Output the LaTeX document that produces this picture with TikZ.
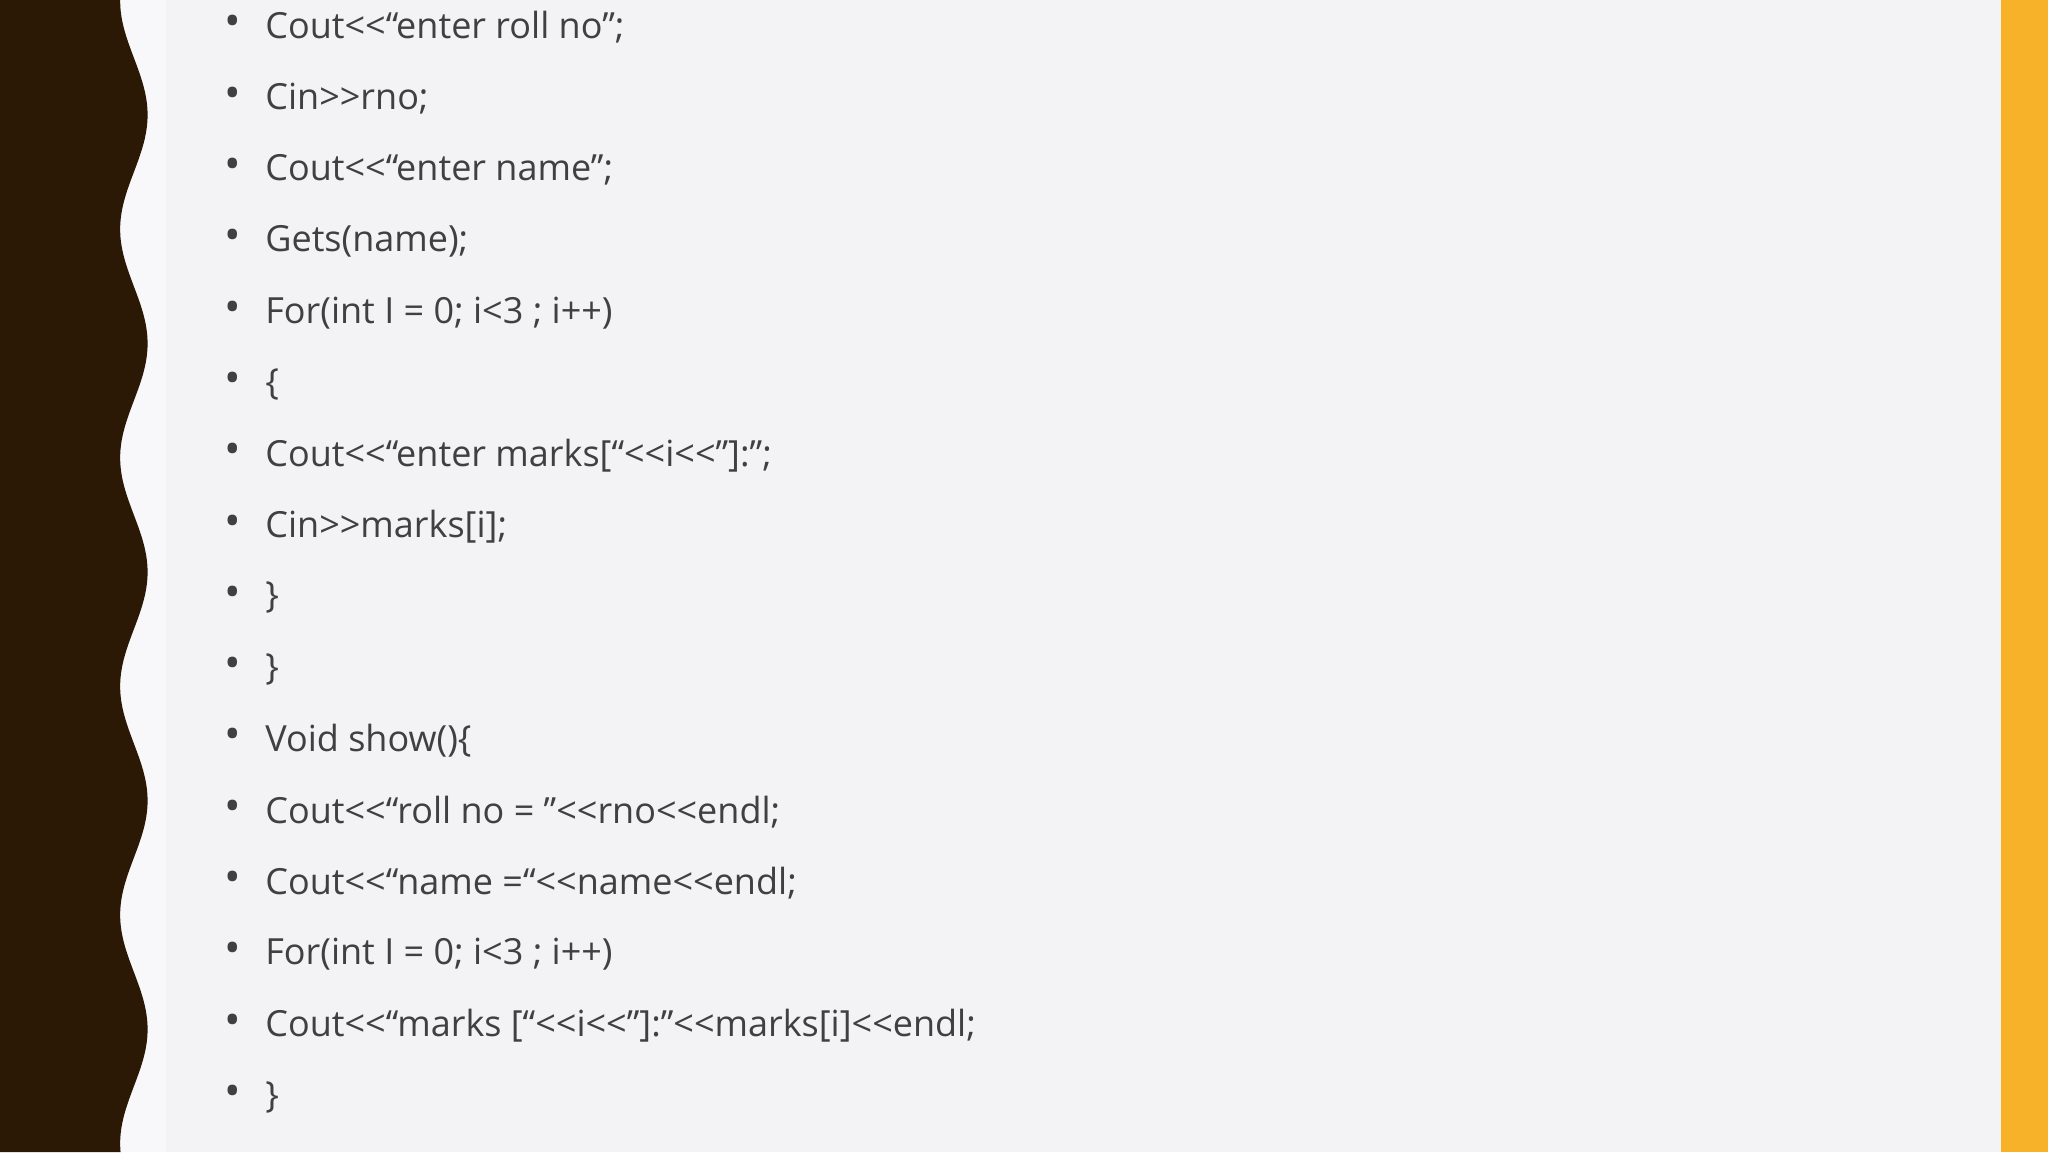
\documentclass[tikz,border=0pt]{standalone}
\usepackage{fontspec}
\setmainfont{Open Sans}
\definecolor{bg}{HTML}{F3F2F5}
\definecolor{band}{HTML}{F8F8FA}
\definecolor{dark}{HTML}{2B1805}
\definecolor{orng}{HTML}{F7B22A}
\definecolor{txt}{HTML}{404040}
\begin{document}
\begin{tikzpicture}[x=1.30612pt,y=-1.30612pt,
  line/.style={anchor=west,inner sep=0pt,text=txt,font=\fontsize{36}{42}\selectfont},
  bul/.style={anchor=center,inner sep=0pt,text=txt,font=\fontsize{44}{50}\selectfont}]
\useasboundingbox (0,0) rectangle (1568,882);
\fill[bg] (0,0) rectangle (1568,882);
\fill[band] (0,0) rectangle (127,882);
\fill[dark] (0,0) -- plot[domain=0:882,samples=200,smooth] ({102.5+10.5*cos(2.05714*(\x-88))},\x) -- (0,882) -- cycle;
\fill[orng] (1532,0) rectangle (1568,882);
\foreach \t [count=\i] in {
 {Cout<{}<“enter roll no”;},
 {Cin>{}>rno;},
 {Cout<{}<“enter name”;},
 {Gets(name);},
 {For(int I = 0; i<3 ; i+{}+)},
 {\{},
 {Cout<{}<“enter marks[“<{}<i<{}<”]:”;},
 {Cin>{}>marks[i];},
 {\}},
 {\}},
 {Void show()\{},
 {Cout<{}<“roll no = ”<{}<rno<{}<endl;},
 {Cout<{}<“name =“<{}<name<{}<endl;},
 {For(int I = 0; i<3 ; i+{}+)},
 {Cout<{}<“marks [“<{}<i<{}<”]:”<{}<marks[i]<{}<endl;},
 {\}}}{
 \node[bul] (b\i) at (178,{20+54.6*(\i-1)}) {•};
 \node[line] (l\i) at (203,{21+54.6*(\i-1)}) {\t};
}
\end{tikzpicture}
\end{document}
